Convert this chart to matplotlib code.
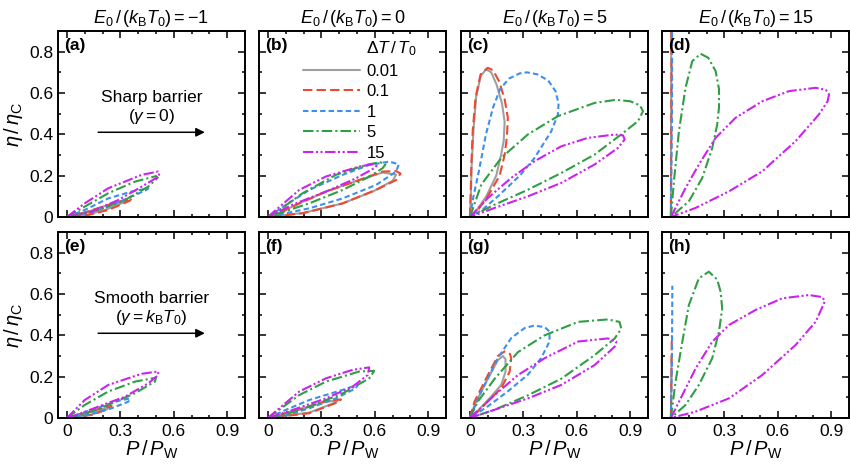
import numpy as np
import matplotlib
matplotlib.use('Agg')
import matplotlib.pyplot as plt
from matplotlib.ticker import MultipleLocator

plt.rcParams['font.family'] = ['Liberation Sans', 'DejaVu Sans']
plt.rcParams['mathtext.fontset'] = 'custom'
plt.rcParams['mathtext.rm'] = 'Liberation Sans'
plt.rcParams['mathtext.it'] = 'Liberation Sans:italic'
plt.rcParams['mathtext.bf'] = 'Liberation Sans:bold'

# Delta T / T0 values, one loop per value in every panel (order: 0.01, 0.1, 1, 5, 15)
dT_labels = ['0.01', '0.1', '1', '5', '15']
colors = ['#a0a0a0', '#ea4a30', '#3d8fec', '#2f9e44', '#cc22f0']
styles = ['-', (0, (4.5, 2)), (0, (2.6, 1.5)), (0, (5, 1.5, 1, 1.5)), (0, (5, 1.2, 1, 1.2, 1, 1.2))]

titles = [r'$E_0\,/\,(k_\mathrm{B}T_0) = -1$', r'$E_0\,/\,(k_\mathrm{B}T_0) = 0$',
          r'$E_0\,/\,(k_\mathrm{B}T_0) = 5$', r'$E_0\,/\,(k_\mathrm{B}T_0) = 15$']
panel_tags = ['(a)', '(b)', '(c)', '(d)', '(e)', '(f)', '(g)', '(h)']

# loops (P/PW, eta/etaC)
loops_a = [
    [(0, 0), (0.1, 0.02), (0.22, 0.055), (0.33, 0.083), (0.34, 0.078), (0.22, 0.036), (0.12, 0.012), (0, 0)],
    [(0, 0), (0.1, 0.022), (0.232, 0.058), (0.363, 0.09), (0.354, 0.079), (0.232, 0.034), (0.12, 0.01), (0, 0)],
    [(0, 0), (0.1, 0.034), (0.232, 0.09), (0.363, 0.123), (0.457, 0.139), (0.447, 0.131), (0.363, 0.099),
     (0.232, 0.05), (0.12, 0.02), (0, 0)],
    [(0, 0), (0.1, 0.05), (0.232, 0.115), (0.382, 0.171), (0.5, 0.198), (0.51, 0.19), (0.457, 0.147),
     (0.326, 0.082), (0.176, 0.034), (0, 0)],
    [(0, 0), (0.1, 0.066), (0.232, 0.139), (0.42, 0.204), (0.513, 0.22), (0.52, 0.212), (0.513, 0.195),
     (0.42, 0.147), (0.288, 0.082), (0.139, 0.026), (0, 0)],
]
loops_b = [
    [(0, 0), (0.064, 0.02), (0.176, 0.066), (0.326, 0.123), (0.513, 0.179), (0.644, 0.215), (0.72, 0.205),
     (0.7, 0.175), (0.6, 0.128), (0.42, 0.066), (0.2, 0.02), (0, 0)],
    [(0, 0), (0.064, 0.018), (0.176, 0.066), (0.326, 0.123), (0.513, 0.179), (0.644, 0.22), (0.72, 0.222),
     (0.745, 0.21), (0.72, 0.179), (0.607, 0.131), (0.42, 0.066), (0.195, 0.018), (0, 0)],
    [(0, 0), (0.101, 0.058), (0.232, 0.131), (0.42, 0.204), (0.569, 0.252), (0.682, 0.268), (0.735, 0.255),
     (0.72, 0.22), (0.607, 0.155), (0.42, 0.09), (0.232, 0.042), (0, 0)],
    [(0, 0), (0.064, 0.034), (0.195, 0.115), (0.382, 0.204), (0.551, 0.252), (0.63, 0.265), (0.66, 0.255),
     (0.644, 0.236), (0.569, 0.195), (0.42, 0.131), (0.232, 0.066), (0, 0)],
    [(0, 0), (0.045, 0.034), (0.176, 0.131), (0.326, 0.196), (0.513, 0.244), (0.59, 0.256), (0.61, 0.248),
     (0.596, 0.236), (0.494, 0.187), (0.326, 0.123), (0.139, 0.06), (0, 0)],
]
loops_c = [
    [(0, 0), (0.005, 0.1), (0.01, 0.25), (0.02, 0.42), (0.035, 0.58), (0.06, 0.68), (0.09, 0.715),
     (0.12, 0.7), (0.15, 0.64), (0.18, 0.55), (0.195, 0.46), (0.19, 0.37), (0.175, 0.3), (0.148, 0.2),
     (0.092, 0.1), (0.04, 0.035), (0, 0)],
    [(0, 0), (0.004, 0.1), (0.008, 0.25), (0.016, 0.42), (0.032, 0.58), (0.06, 0.69), (0.1, 0.722),
     (0.13, 0.71), (0.165, 0.655), (0.195, 0.57), (0.213, 0.48), (0.208, 0.39), (0.195, 0.3),
     (0.167, 0.2), (0.1, 0.1), (0.05, 0.04), (0, 0)],
    [(0, 0), (0.02, 0.1), (0.05, 0.22), (0.09, 0.4), (0.13, 0.53), (0.17, 0.62), (0.22, 0.67), (0.28, 0.695),
     (0.32, 0.7), (0.38, 0.69), (0.44, 0.66), (0.48, 0.61), (0.498, 0.55), (0.494, 0.496), (0.457, 0.415),
     (0.363, 0.286), (0.28, 0.2), (0.157, 0.1), (0.07, 0.035), (0, 0)],
    [(0, 0), (0.064, 0.157), (0.176, 0.286), (0.326, 0.4), (0.494, 0.488), (0.7, 0.552), (0.82, 0.567),
     (0.9, 0.56), (0.955, 0.54), (0.972, 0.512), (0.944, 0.464), (0.85, 0.4), (0.7, 0.302), (0.513, 0.213),
     (0.326, 0.132), (0.139, 0.06), (0, 0)],
    [(0, 0), (0.101, 0.092), (0.232, 0.189), (0.363, 0.27), (0.513, 0.342), (0.663, 0.383), (0.813, 0.399),
     (0.86, 0.395), (0.869, 0.375), (0.831, 0.334), (0.7, 0.254), (0.513, 0.165), (0.326, 0.1),
     (0.139, 0.044), (0, 0)],
]
loops_d = [
    [(0, 0), (0.001, 0.5), (0.002, 1.0)],
    [(0, 0), (0.003, 0.5), (0.004, 1.0)],
    [(0, 0), (0.006, 0.5), (0.007, 1.0)],
    [(0, 0), (0.017, 0.173), (0.045, 0.415), (0.082, 0.625), (0.12, 0.754), (0.167, 0.79), (0.21, 0.77),
     (0.251, 0.706), (0.27, 0.62), (0.27, 0.53), (0.26, 0.447), (0.232, 0.334), (0.176, 0.189),
     (0.101, 0.076), (0, 0)],
    [(0, 0), (0.082, 0.14), (0.157, 0.254), (0.251, 0.383), (0.363, 0.48), (0.513, 0.56), (0.663, 0.609),
     (0.813, 0.625), (0.87, 0.615), (0.888, 0.593), (0.88, 0.56), (0.831, 0.496), (0.7, 0.367),
     (0.513, 0.221), (0.326, 0.124), (0.139, 0.044), (0, 0)],
]
loops_e = [
    [(0, 0), (0.064, 0.012), (0.157, 0.034), (0.23, 0.05), (0.225, 0.042), (0.139, 0.016), (0, 0)],
    [(0, 0), (0.064, 0.015), (0.157, 0.039), (0.251, 0.058), (0.242, 0.047), (0.139, 0.015), (0, 0)],
    [(0, 0), (0.139, 0.039), (0.27, 0.079), (0.354, 0.095), (0.345, 0.079), (0.251, 0.047), (0.1, 0.012), (0, 0)],
    [(0, 0), (0.1, 0.063), (0.232, 0.128), (0.382, 0.176), (0.5, 0.195), (0.494, 0.176), (0.382, 0.12),
     (0.232, 0.063), (0.1, 0.02), (0, 0)],
    [(0, 0), (0.1, 0.087), (0.232, 0.16), (0.42, 0.214), (0.513, 0.225), (0.513, 0.208), (0.457, 0.168),
     (0.326, 0.103), (0.176, 0.055), (0.07, 0.02), (0, 0)],
]
loops_f = [
    [(0, 0), (0.176, 0.04), (0.32, 0.078), (0.39, 0.085), (0.38, 0.075), (0.232, 0.026), (0, 0)],
    [(0, 0), (0.176, 0.042), (0.326, 0.082), (0.41, 0.09), (0.4, 0.079), (0.232, 0.023), (0, 0)],
    [(0, 0), (0.1, 0.039), (0.232, 0.087), (0.4, 0.131), (0.504, 0.16), (0.494, 0.144), (0.382, 0.095),
     (0.232, 0.047), (0.1, 0.012), (0, 0)],
    [(0, 0), (0.176, 0.111), (0.326, 0.176), (0.513, 0.225), (0.597, 0.228), (0.569, 0.192), (0.42, 0.119),
     (0.232, 0.055), (0.08, 0.012), (0, 0)],
    [(0, 0), (0.064, 0.047), (0.176, 0.128), (0.326, 0.192), (0.476, 0.233), (0.569, 0.245), (0.56, 0.208),
     (0.476, 0.152), (0.326, 0.095), (0.139, 0.039), (0, 0)],
]
loops_g = [
    [(0, 0), (0.026, 0.063), (0.101, 0.19), (0.157, 0.28), (0.185, 0.3), (0.2, 0.285), (0.2, 0.224),
     (0.176, 0.16), (0.11, 0.095), (0.05, 0.04), (0, 0)],
    [(0, 0), (0.026, 0.08), (0.1, 0.206), (0.157, 0.3), (0.195, 0.322), (0.225, 0.31), (0.232, 0.289),
     (0.223, 0.224), (0.176, 0.144), (0.1, 0.08), (0.05, 0.035), (0, 0)],
    [(0, 0), (0.064, 0.129), (0.157, 0.29), (0.232, 0.387), (0.307, 0.435), (0.36, 0.447), (0.42, 0.44),
     (0.447, 0.418), (0.447, 0.37), (0.4, 0.29), (0.326, 0.21), (0.213, 0.129), (0.1, 0.056), (0, 0)],
    [(0, 0), (0.045, 0.08), (0.139, 0.19), (0.27, 0.319), (0.419, 0.4), (0.607, 0.465), (0.775, 0.477),
     (0.84, 0.465), (0.85, 0.432), (0.813, 0.385), (0.7, 0.304), (0.513, 0.19), (0.326, 0.11),
     (0.139, 0.04), (0, 0)],
    [(0, 0), (0.139, 0.111), (0.27, 0.208), (0.419, 0.289), (0.607, 0.37), (0.775, 0.385), (0.822, 0.37),
     (0.813, 0.345), (0.7, 0.256), (0.513, 0.16), (0.326, 0.095), (0.139, 0.04), (0, 0)],
]
loops_h = [
    [(0, 0), (0.002, 0.15), (0.004, 0.3)],
    [(0, 0), (0.003, 0.2), (0.005, 0.4)],
    [(0, 0), (0.006, 0.3), (0.008, 0.64)],
    [(0, 0), (0.026, 0.176), (0.064, 0.369), (0.101, 0.547), (0.157, 0.676), (0.213, 0.708), (0.26, 0.67),
     (0.279, 0.611), (0.288, 0.53), (0.27, 0.418), (0.232, 0.289), (0.157, 0.16), (0.082, 0.063), (0, 0)],
    [(0, 0), (0.064, 0.111), (0.139, 0.24), (0.232, 0.369), (0.326, 0.45), (0.476, 0.523), (0.625, 0.579),
     (0.775, 0.595), (0.85, 0.585), (0.865, 0.565), (0.813, 0.466), (0.7, 0.353), (0.513, 0.208),
     (0.326, 0.095), (0.139, 0.031), (0, 0)],
]
all_loops = [loops_a, loops_b, loops_c, loops_d, loops_e, loops_f, loops_g, loops_h]

fig = plt.figure(figsize=(8.5, 4.67), dpi=100)
lefts = [58, 259, 461, 662]
tops = [31, 232]
W, H = 187, 186

axes = []
for r in range(2):
    for c in range(4):
        ax = fig.add_axes([lefts[c] / 850, 1 - (tops[r] + H) / 467, W / 850, H / 467])
        axes.append(ax)

def fmt(v, p):
    return '0' if abs(v) < 1e-9 else f'{v:.1f}'

for k, ax in enumerate(axes):
    r, c = divmod(k, 4)
    for i, loop in enumerate(all_loops[k]):
        pts = np.array(loop)
        ax.plot(pts[:, 0], pts[:, 1], color=colors[i], linestyle=styles[i], lw=1.5,
                label=dT_labels[i], solid_capstyle='round')
    ax.set_xlim(-0.05, 1.0)
    ax.set_ylim(0, 0.9)
    ax.xaxis.set_major_locator(MultipleLocator(0.3))
    ax.xaxis.set_minor_locator(MultipleLocator(0.1))
    ax.yaxis.set_major_locator(MultipleLocator(0.2))
    ax.yaxis.set_minor_locator(MultipleLocator(0.1))
    ax.tick_params(which='both', direction='in', top=True, right=True, width=1.1, labelsize=12.5)
    ax.tick_params(which='major', length=5)
    ax.tick_params(which='minor', length=2.5)
    ax.tick_params(axis='x', pad=4)
    for s in ax.spines.values():
        s.set_linewidth(1.4)
    ax.xaxis.set_major_formatter(plt.FuncFormatter(fmt))
    ax.yaxis.set_major_formatter(plt.FuncFormatter(fmt))
    if r == 0:
        ax.tick_params(labelbottom=False)
        ax.set_title(titles[c], fontsize=13, pad=6)
    else:
        ax.set_xlabel(r'$P\,/\,P_\mathrm{W}$', fontsize=14.5, labelpad=0)
    if c != 0:
        ax.tick_params(labelleft=False)
    else:
        ax.set_ylabel(r'$\eta\,/\,\eta_\mathrm{C}$', fontsize=14.5, labelpad=3)
    ax.text(0.035, 0.965, panel_tags[k], transform=ax.transAxes, fontsize=12.5, fontweight='bold',
            ha='left', va='top')

# legend in panel (b), title put in by hand so it can stick out to the right
axes[1].legend(loc='upper left', bbox_to_anchor=(0.2, 0.86), frameon=False, fontsize=12,
               handlelength=3.4, handletextpad=0.4, labelspacing=0.33, borderaxespad=0)
axes[1].text(0.71, 0.905, r'$\Delta T\,/\,T_0$', transform=axes[1].transAxes, fontsize=12.5,
             ha='center', va='center')

# arrows with annotations in (a) and (e)
for ax, txt in [(axes[0], 'Sharp barrier\n' + r'$(\gamma = 0)$'),
                (axes[4], 'Smooth barrier\n' + r'$(\gamma = k_\mathrm{B}T_0)$')]:
    ax.annotate('', xy=(0.79, 0.41), xytext=(0.16, 0.41),
                arrowprops=dict(arrowstyle='-|>', color='black', lw=1.1, mutation_scale=13))
    ax.text(0.475, 0.44, txt, ha='center', va='bottom', fontsize=12.5, linespacing=1.15)

fig.savefig('out.png', dpi=100)
